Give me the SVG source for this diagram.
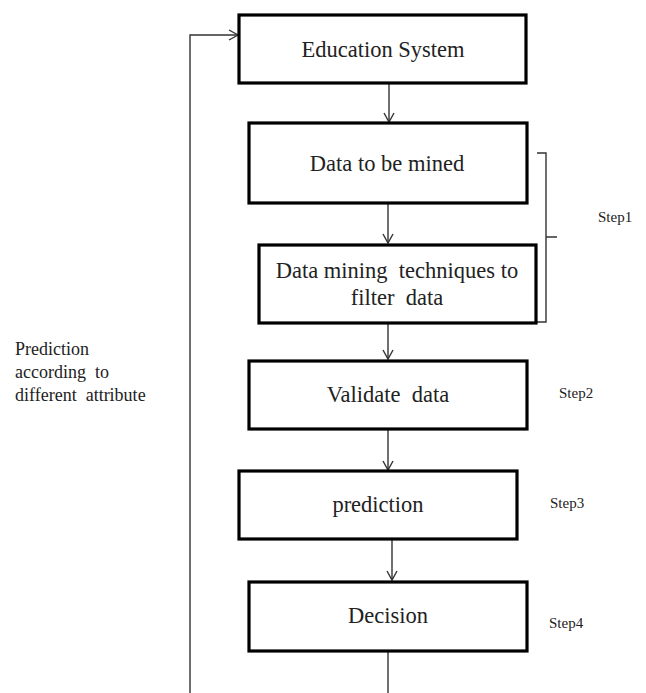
<svg xmlns="http://www.w3.org/2000/svg" width="646" height="693" viewBox="0 0 646 693">
<style>
.box{fill:#fff;stroke:#000;stroke-width:3.2}
text{white-space:pre}
.t{font-family:'Liberation Serif','Times New Roman',Times,'DejaVu Serif',serif;font-size:22.5px;fill:#222;text-anchor:middle}
.s{font-family:'Liberation Serif','Times New Roman',Times,'DejaVu Serif',serif;font-size:15px;fill:#222}
.l{font-family:'Liberation Serif','Times New Roman',Times,'DejaVu Serif',serif;font-size:18px;fill:#222}
.c{fill:none;stroke:#333;stroke-width:1.4}
</style>
<defs>
<marker id="a" markerWidth="12" markerHeight="12" refX="10" refY="6" orient="auto" markerUnits="userSpaceOnUse">
<polyline points="1,1 10,6 1,11" fill="none" stroke="#333" stroke-width="1.4"/>
</marker>
</defs>
<rect width="646" height="693" fill="#fff"/>
<g id="connectors">
<line class="c" x1="389" y1="84" x2="389" y2="122" marker-end="url(#a)"/>
<line class="c" x1="388" y1="204" x2="388" y2="243" marker-end="url(#a)"/>
<line class="c" x1="388" y1="324" x2="388" y2="359" marker-end="url(#a)"/>
<line class="c" x1="388" y1="430" x2="388" y2="470" marker-end="url(#a)"/>
<line class="c" x1="392" y1="540" x2="392" y2="580" marker-end="url(#a)"/>
<polyline class="c" points="388,652 388,693"/>
<polyline class="c" points="190,693 190,35 238,35" marker-end="url(#a)"/>
<path class="c" d="M537,153 H546 V322 H537 M546,237 H557"/>
</g>
<g id="n1"><rect class="box" x="239" y="15" width="287" height="68"/><text class="t" x="383" y="57">Education System</text></g>
<g id="n2"><rect class="box" x="249" y="123" width="278" height="80"/><text class="t" x="387" y="171">Data to be mined</text></g>
<g id="n3"><rect class="box" x="259" y="245" width="277" height="78"/><text class="t" x="397" y="278">Data mining  techniques to</text><text class="t" x="397" y="305">filter  data</text></g>
<g id="n4"><rect class="box" x="249" y="361" width="278" height="68"/><text class="t" x="388" y="402">Validate  data</text></g>
<g id="n5"><rect class="box" x="239" y="471" width="278" height="68"/><text class="t" x="378" y="512">prediction</text></g>
<g id="n6"><rect class="box" x="249" y="582" width="278" height="69"/><text class="t" x="388" y="623">Decision</text></g>
<g id="labels">
<text class="s" x="598" y="222">Step1</text>
<text class="s" x="559" y="398">Step2</text>
<text class="s" x="550" y="508">Step3</text>
<text class="s" x="549" y="628">Step4</text>
<text class="l" x="15" y="355">Prediction</text>
<text class="l" x="15" y="378">according  to</text>
<text class="l" x="15" y="401">different  attribute</text>
</g>
</svg>
